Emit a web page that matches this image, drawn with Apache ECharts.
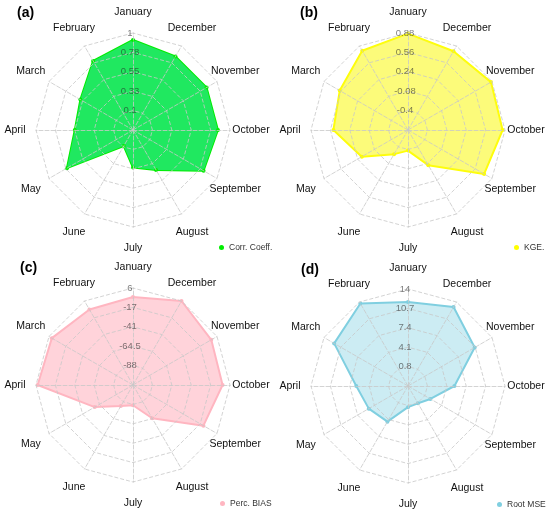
<!DOCTYPE html>
<html>
<head>
<meta charset="utf-8">
<script src="https://cdn.jsdelivr.net/npm/echarts@6/dist/echarts.min.js"></script>
<style>
  html, body { margin: 0; padding: 0; background: #fff; }
  #chart { width: 550px; height: 515px; }
</style>
</head>
<body>
<div id="chart"></div>
<script>
// monthly skill scores, one radar per metric

var months = ['January', 'February', 'March', 'April', 'May', 'June',
              'July', 'August', 'September', 'October', 'November', 'December'];

var corrCoeff = [0.92, 0.80, 0.58, 0.55, 0.76, 0.09, 0.31, 0.41, 0.82, 0.86, 0.86, 0.86];
var kge       = [0.87, 0.79, 0.58, 0.51, 0.16, -0.26, -0.38, -0.05, 0.73, 0.84, 0.86, 0.78];
var percBias  = [-5, -6, 2, 4, -58, -82, -87, -65, -13, -3, -2, 6];
var rootMse   = [11.8, 13.7, 12.0, 6.3, 5.2, 4.5, 1.1, 0.9, 1.9, 5.4, 10.6, 13.0];

var ticksA = ['', '0.1', '0.33', '0.55', '0.78', '1'];
var ticksB = ['', '-0.4', '-0.08', '0.24', '0.56', '0.88'];
var ticksC = ['', '-88', '-64.5', '-41', '-17', '6'];
var ticksD = ['', '0.8', '4.1', '7.4', '10.7', '14'];

var panels = [
  { tag: '(a)', name: 'Corr. Coeff.', data: corrCoeff, ticks: ticksA, min: -0.125, max: 1,
    center: [133, 130], line: '#00ee00', fill: '#20e860',
    tagPos: [17, 6], legendPos: [219, 243] },
  { tag: '(b)', name: 'KGE.', data: kge, ticks: ticksB, min: -0.72, max: 0.88,
    center: [408, 130], line: '#ffff00', fill: 'rgba(250,248,40,0.62)',
    tagPos: [300, 6], legendPos: [514, 243] },
  { tag: '(c)', name: 'Perc. BIAS', data: percBias, ticks: ticksC, min: -111.5, max: 6,
    center: [133, 385], line: '#ffb6c1', fill: 'rgba(255,182,193,0.6)',
    tagPos: [20, 261], legendPos: [220, 499] },
  { tag: '(d)', name: 'Root MSE', data: rootMse, ticks: ticksD, min: -2.5, max: 14,
    center: [408, 386], line: '#80cfe0', fill: 'rgba(128,207,224,0.4)',
    tagPos: [301, 263], legendPos: [497, 500] }
];

var chart = echarts.init(document.getElementById('chart'));

var radars = [], series = [], titles = [], legends = [];

panels.forEach(function (p, k) {
  radars.push({
    center: p.center,
    radius: 97,
    startAngle: 90,
    splitNumber: 5,
    shape: 'polygon',
    z: 3,
    nameGap: 21,
    axisName: {
      color: '#111',
      fontSize: 10.5,
      fontFamily: 'Liberation Sans, Arial, sans-serif',
      align: 'center',
      verticalAlign: 'middle'
    },
    splitLine: { lineStyle: { color: 'rgba(200,200,200,0.8)', type: 'dashed', width: 1 } },
    splitArea: { show: false },
    axisLine: { lineStyle: { color: 'rgba(200,200,200,0.8)', type: 'dashed', width: 1 } },
    axisTick: { show: false },
    axisLabel: { show: false },
    indicator: months.map(function (m, i) {
      var ind = { name: m, min: p.min, max: p.max };
      if (i === 0) {
        ind.axisLabel = {
          show: true,
          margin: 3,
          align: 'center',
          verticalAlign: 'middle',
          fontSize: 9.5,
          fontFamily: 'Liberation Sans, Arial, sans-serif',
          color: 'rgba(40,40,40,0.6)',
          formatter: function (v, idx) { return p.ticks[idx]; }
        };
      }
      return ind;
    })
  });

  series.push({
    type: 'radar',
    radarIndex: k,
    name: p.name,
    symbol: 'circle',
    symbolSize: 4,
    lineStyle: { color: p.line, width: 2 },
    itemStyle: { color: p.line },
    areaStyle: { color: p.fill, opacity: 1 },
    data: [{ name: p.name, value: p.data }]
  });

  titles.push({
    text: p.tag,
    left: p.tagPos[0],
    top: p.tagPos[1],
    padding: 0,
    textStyle: { fontSize: 14, fontWeight: 'bold', color: '#000',
                 fontFamily: 'Liberation Sans, Arial, sans-serif' }
  });

  legends.push({
    data: [p.name],
    left: p.legendPos[0],
    top: p.legendPos[1],
    padding: 0,
    icon: 'circle',
    itemWidth: 5,
    itemHeight: 5,
    selectedMode: false,
    textStyle: { fontSize: 8.5, color: '#333',
                 fontFamily: 'Liberation Sans, Arial, sans-serif' }
  });
});

chart.setOption({
  animation: false,
  title: titles,
  legend: legends,
  radar: radars,
  series: series
});
</script>
</body>
</html>
